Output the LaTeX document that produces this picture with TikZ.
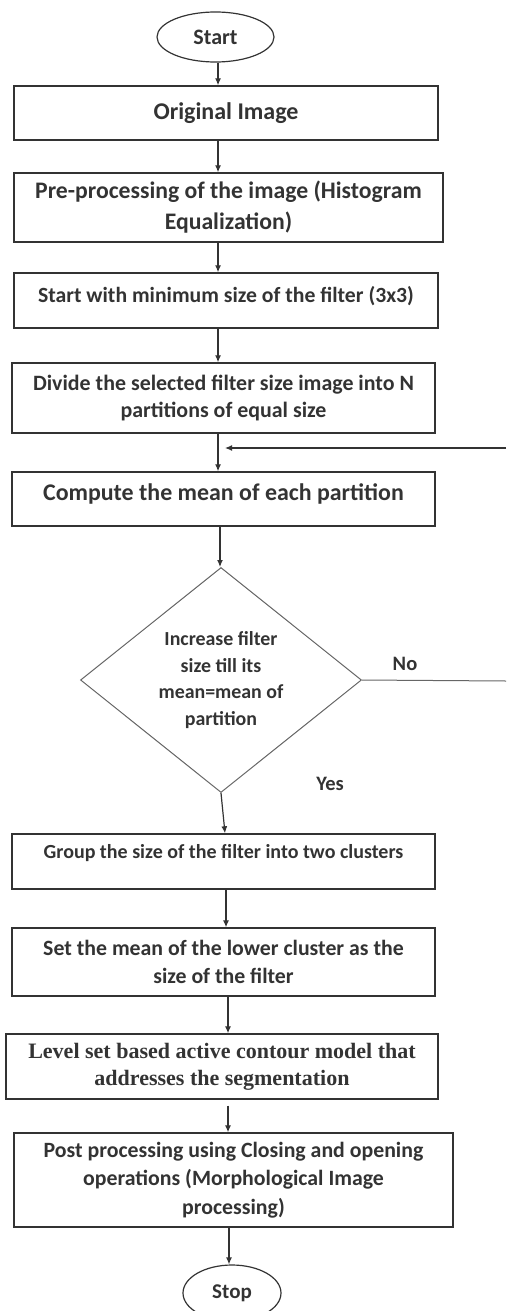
\documentclass[tikz,border=0pt]{standalone}
\usepackage{fontspec}
\setmainfont{Carlito}
\newfontfamily\serifbold{Liberation Serif}
\usetikzlibrary{shapes.geometric,arrows.meta}
\definecolor{inkgray}{HTML}{333333}

\begin{document}
\begin{tikzpicture}[x=1pt,y=-1pt,
        box/.style={rectangle, draw=inkgray, line width=1.4pt, align=center, text=inkgray, inner sep=2pt},
        term/.style={ellipse, draw=inkgray, line width=1.2pt, text=inkgray, inner sep=0pt},
        decision/.style={diamond, draw=black!60, line width=1pt, aspect=1.25, inner sep=0pt,
            align=center, text=inkgray},
        sz/.style 2 args={font=\fontsize{#1pt}{#2pt}\selectfont\bfseries},
        arrow/.style={-{Latex[length=7pt,width=6pt]}, line width=1.2pt, draw=inkgray}
    ]
        \clip (0,0) rectangle (506,1311);

        % Start
        \node[term, sz={22}{26}, minimum width=117pt, minimum height=50pt] (start) at (215.5,37) {Start};

        % Image and pre-processing
        \node[box, sz={24}{28}, minimum width=424pt, minimum height=54pt] (orig) at (226,113)
            {Original Image};
        \node[box, sz={23.7}{31}, minimum width=429pt, minimum height=69pt] (pre) at (228.5,207.5)
            {Pre-processing of the image (Histogram\\Equalization)};

        % Filter size and partitions
        \node[box, sz={21.7}{26}, minimum width=424pt, minimum height=55pt,
            text height=16.3pt, text depth=12.4pt] (minsize) at (226,300.5)
            {Start with minimum size of the filter (3x3)};
        \node[box, sz={21.9}{27.5}, minimum width=423pt, minimum height=70pt] (divide) at (223.5,398)
            {Divide the selected filter size image into N\\partitions of equal size};
        \node[box, sz={23.9}{28}, minimum width=423pt, minimum height=54pt,
            text height=17.9pt, text depth=14.6pt] (compute) at (223.5,499)
            {Compute the mean of each partition};

        % Decision
        \node[decision, sz={19.9}{26.5}, minimum width=281pt, minimum height=225pt] (check) at (221,680)
            {Increase filter\\size till its\\mean=mean of\\partition};
        \node[sz={20.5}{24}, text=inkgray] (no) at (405,664) {No};
        \node[sz={20.5}{24}, text=inkgray] (yes) at (330,784) {Yes};
        \coordinate (noend) at (506,681);
        \coordinate (back) at (506,448);

        % Clustering
        \node[box, sz={20}{24}, minimum width=423pt, minimum height=55pt,
            text height=15pt, text depth=21.2pt] (group) at (223.5,861.5)
            {Group the size of the filter into two clusters};
        \node[box, sz={21.8}{28}, minimum width=423pt, minimum height=68pt] (setmean) at (223.5,962)
            {Set the mean of the lower cluster as the\\size of the filter};

        % Segmentation and post processing
        \node[box, font=\fontsize{22pt}{27pt}\selectfont\serifbold\bfseries, minimum width=432pt,
            minimum height=65pt] (level) at (222,1066.5)
            {Level set based active contour model that\\addresses the segmentation};
        \node[box, sz={21.8}{28.5}, minimum width=439pt, minimum height=94pt] (post) at (233.5,1180)
            {Post processing using Closing and opening\\operations (Morphological Image\\processing)};

        % Stop
        \node[term, sz={21}{24}, minimum width=98pt, minimum height=56pt] (stop) at (232,1293) {Stop};

        % Connect everything
        \draw[arrow] ([xshift=2.5pt]start.south) -- ([xshift=2.5pt]start.south |- orig.north);
        \draw[arrow] ([xshift=-8pt]orig.south) -- ([xshift=-8pt]orig.south |- pre.north);
        \draw[arrow] ([xshift=-10.5pt]pre.south) -- ([xshift=-10.5pt]pre.south |- minsize.north);
        \draw[arrow] ([xshift=-8pt]minsize.south) -- ([xshift=-8pt]minsize.south |- divide.north);
        \draw[arrow] ([xshift=-5.5pt]divide.south) -- ([xshift=-5.5pt]divide.south |- compute.north);
        \draw[arrow] ([xshift=-3.5pt]compute.south) -- ([xshift=-3.5pt]compute.south |- check.north);
        \draw[arrow] (check.south) -- ([xshift=1.5pt]group.north);
        \draw[arrow] ([xshift=2.5pt]group.south) -- ([xshift=2.5pt]group.south |- setmean.north);
        \draw[arrow] ([xshift=4.5pt]setmean.south) -- ([xshift=4.5pt]setmean.south |- level.north);
        \draw[arrow] ([xshift=6pt,yshift=-6pt]level.south) -- ([xshift=6pt]level.south |- post.north);
        \draw[arrow] ([xshift=-4.5pt]post.south) -- ([xshift=-4.5pt]post.south |- stop.north);

        % Loop back when No
        \draw[draw=black!60, line width=1pt] (check.east) -- (noend);
        \draw[arrow, shorten >=7pt] (back) -- ([xshift=-5.5pt]divide.south |- back);
    \end{tikzpicture}
\end{document}
